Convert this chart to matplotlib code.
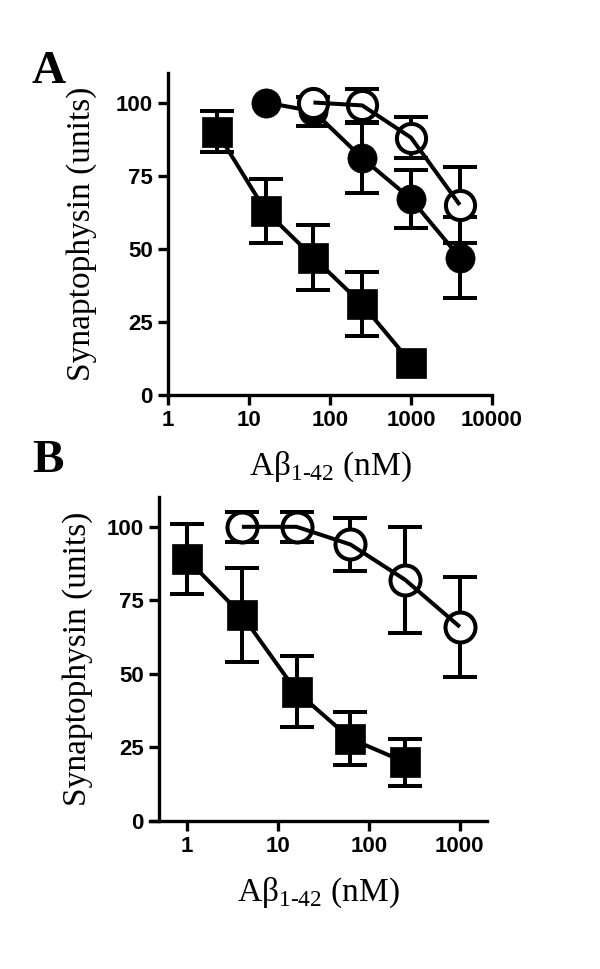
import matplotlib
matplotlib.use('Agg')
import matplotlib.pyplot as plt
import numpy as np

# Panel A
a_sq_x = [4, 16, 62.5, 250, 1000]
a_sq_y = [90, 63, 47, 31, 11]
a_sq_err = [7, 11, 11, 11, 0]

a_fc_x = [16, 62.5, 250, 1000, 4000]
a_fc_y = [100, 97, 81, 67, 47]
a_fc_err = [0, 5, 12, 10, 14]

a_oc_x = [62.5, 250, 1000, 4000]
a_oc_y = [100, 99, 88, 65]
a_oc_err = [0, 5.5, 7, 13]

# Panel B
b_sq_x = [1, 4, 16, 62.5, 250]
b_sq_y = [89, 70, 44, 28, 20]
b_sq_err = [12, 16, 12, 9, 8]

b_oc_x = [4, 16, 62.5, 250, 1000]
b_oc_y = [100, 100, 94, 82, 66]
b_oc_err = [5, 5, 9, 18, 17]

yticks = [0, 25, 50, 75, 100]
a_xticks = [1, 10, 100, 1000, 10000]
b_xticks = [1, 10, 100, 1000]

plt.rcParams['mathtext.fontset'] = 'custom'
plt.rcParams['mathtext.rm'] = 'Liberation Serif'

fig = plt.figure(figsize=(6, 9.69), dpi=100)
axA = fig.add_axes([0.28, 0.5924, 0.54, 0.332])
axB = fig.add_axes([0.25, 0.1527, 0.562, 0.334])

lw = 2.9
cap = 12


def series(ax, x, y, err, marker, filled, ms, z):
    x, y, err = np.array(x), np.array(y), np.array(err)
    has = err > 0
    ax.errorbar(x[has], y[has], yerr=err[has], fmt='none', ecolor='black',
                elinewidth=lw, capsize=cap, capthick=lw, zorder=z)
    ax.plot(x, y, linestyle='none', marker=marker, ms=ms,
            mfc='black' if filled else 'white', mec='black',
            mew=lw if not filled else 0.5, zorder=z + 0.3)
    ax.plot(x, y, '-', color='black', lw=lw, zorder=z + 0.6,
            solid_capstyle='butt')


def style(ax, xticks, xlim, ypad):
    ax.set_xscale('log')
    ax.set_xlim(*xlim)
    ax.set_ylim(0, 110)
    ax.xaxis.set_minor_locator(matplotlib.ticker.NullLocator())
    ax.set_yticks(yticks)
    ax.set_yticklabels([str(t) for t in yticks], fontweight='bold',
                       family='Liberation Sans')
    ax.set_xticks(xticks)
    ax.set_xticklabels([str(t) for t in xticks], fontweight='bold',
                       family='Liberation Sans')
    for s in ['top', 'right']:
        ax.spines[s].set_visible(False)
    for s in ['left', 'bottom']:
        ax.spines[s].set_linewidth(2.4)
    ax.tick_params(width=2.4, length=7.5, labelsize=16, pad=3.6)
    ax.set_ylabel('Synaptophysin (units)', family='Liberation Serif',
                  fontsize=24, labelpad=ypad)
    ax.set_xlabel('A\u03b2$_{\\text{1-42}}$ (nM)', family='Liberation Serif',
                  fontsize=24, labelpad=13)
    ax.set_facecolor('none')


series(axA, a_sq_x, a_sq_y, a_sq_err, 's', True, 21, 3)
series(axA, a_fc_x, a_fc_y, a_fc_err, 'o', True, 21, 4)
series(axA, a_oc_x, a_oc_y, a_oc_err, 'o', False, 21, 5)
style(axA, a_xticks, (1, 10000), 13)

axB.spines['left'].set_position(('data', 0.49))
series(axB, b_sq_x, b_sq_y, b_sq_err, 's', True, 21.6, 3)
series(axB, b_oc_x, b_oc_y, b_oc_err, 'o', False, 21.6, 5)
style(axB, b_xticks, (0.39, 2000), 10)

fig.text(32 / 600, 1 - 83 / 969, 'A', family='Liberation Serif',
         fontweight='bold', fontsize=34, va='baseline')
fig.text(32 / 600, 1 - 472 / 969, 'B', family='Liberation Serif',
         fontweight='bold', fontsize=34, va='baseline')

fig.savefig('out.png', dpi=100)
